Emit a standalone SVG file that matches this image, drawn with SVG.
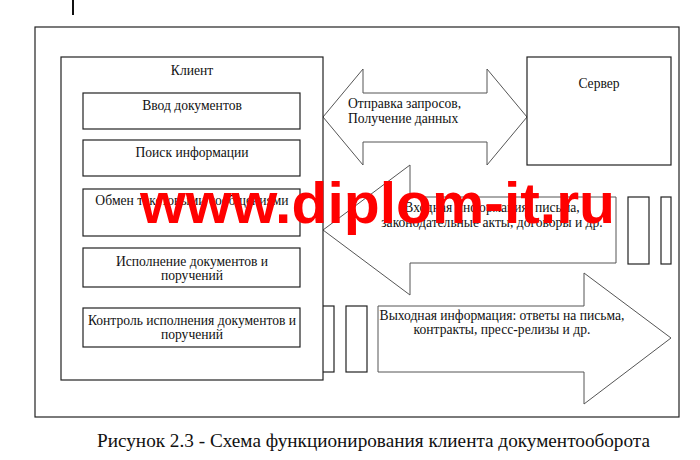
<svg xmlns="http://www.w3.org/2000/svg" width="700" height="460" viewBox="0 0 700 460">
<style>
.box{fill:#fff;stroke:#222;stroke-width:1.2}
.arr{fill:#fff;stroke:#555;stroke-width:1}
.t{font-family:"Liberation Serif","Times New Roman",serif;font-size:13.6px;fill:#111}
.c{text-anchor:middle}
.wm{font-family:"Liberation Sans",Arial,sans-serif;font-weight:bold;font-size:58px;fill:#f00}
</style>
<rect width="700" height="460" fill="#fff"/>
<line x1="73" y1="0" x2="73" y2="15" stroke="#111" stroke-width="2"/>
<rect x="35" y="27" width="644" height="390" fill="#fff" stroke="#222" stroke-width="1.2"/>
<g id="connectors">
<rect class="box" x="628" y="197" width="21" height="67"/>
<rect class="box" x="661" y="197" width="10" height="67"/>
<rect class="box" x="313" y="306" width="21" height="66"/>
<rect class="box" x="346" y="306" width="21" height="66"/>
<polygon class="arr" points="323,117 363,69 363,93 487,93 487,69 527,117 487,165 487,142 363,142 363,165"/>
<polygon class="arr" points="323,230 410,165 410,197 616,197 616,263 410,263 410,295"/>
<polygon class="arr" points="378,306 584,306 584,273 671,338 584,404 584,372 378,372"/>
<text class="t" x="348" y="108">Отправка запросов,</text>
<text class="t" x="348" y="123">Получение данных</text>
<text class="t c" x="492" y="212">Входная информация: письма,</text>
<text class="t c" x="492" y="227">законодательные акты, договоры и др.</text>
<text class="t c" x="502" y="320">Выходная информация: ответы на письма,</text>
<text class="t c" x="502" y="334">контракты, пресс-релизы и др.</text>
</g>
<g id="server">
<rect class="box" x="527" y="57" width="144" height="108"/>
<text class="t c" x="599" y="88">Сервер</text>
</g>
<g id="client">
<rect class="box" x="61" y="57" width="262" height="323"/>
<text class="t c" x="192" y="75">Клиент</text>
</g>
<g id="input">
<rect class="box" x="83" y="93" width="217" height="36"/>
<text class="t c" x="192" y="110">Ввод документов</text>
</g>
<g id="search">
<rect class="box" x="83" y="140" width="217" height="36"/>
<text class="t c" x="192" y="157">Поиск информации</text>
</g>
<g id="exchange">
<rect class="box" x="83" y="189" width="217" height="47"/>
<text class="t c" x="192" y="205">Обмен текстовыми сообщениями</text>
</g>
<g id="execution">
<rect class="box" x="83" y="248" width="217" height="39"/>
<text class="t c" x="192" y="266">Исполнение документов и</text>
<text class="t c" x="192" y="280">поручений</text>
</g>
<g id="control">
<rect class="box" x="83" y="308" width="217" height="39"/>
<text class="t c" x="192" y="325">Контроль исполнения документов и</text>
<text class="t c" x="192" y="339">поручений</text>
</g>
<text class="wm" x="140" y="223" textLength="475" lengthAdjust="spacingAndGlyphs">www.diplom-it.ru</text>
<text x="97" y="447" font-family="'Liberation Serif','Times New Roman',serif" font-size="18" fill="#111" textLength="553" lengthAdjust="spacingAndGlyphs">Рисунок 2.3 - Схема функционирования клиента документооборота</text>
</svg>
